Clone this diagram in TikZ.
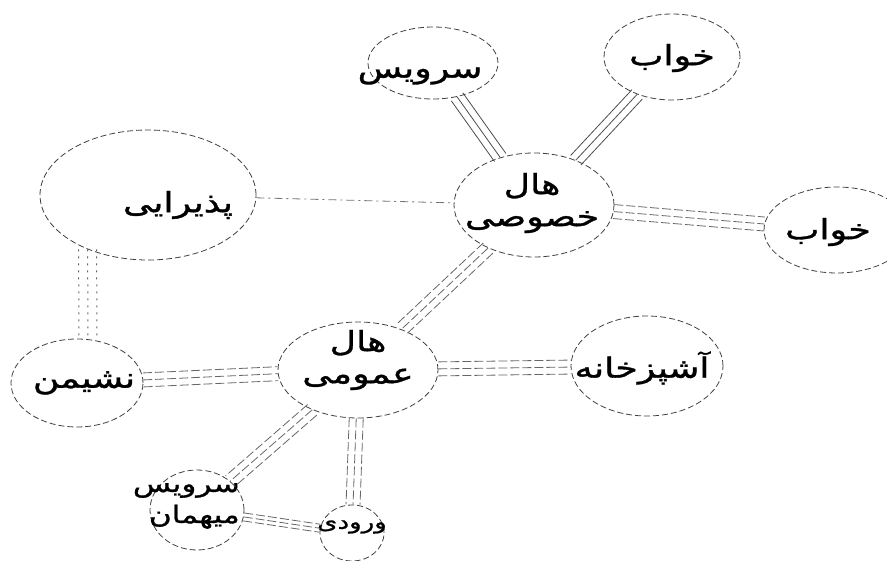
\documentclass[tikz,border=0pt]{standalone}
\usepackage{fontspec}
\newfontfamily\fa[Script=Arabic, FakeStretch=1.3, FakeBold=1.2]{DejaVu Sans}
\TeXXeTstate=1
\usetikzlibrary{shapes.geometric,calc}
\newcommand\trip[4][7pt]{%
  \path (#3) -- (#4) coordinate[pos=0] (#3#4s) coordinate[pos=1] (#3#4e);
  \draw[#2] (#3#4s) -- (#3#4e);
  \draw[#2] ($(#3#4s)!#1!90:(#3#4e)$) -- ($(#3#4e)!#1!-90:(#3#4s)$);
  \draw[#2] ($(#3#4s)!#1!-90:(#3#4e)$) -- ($(#3#4e)!#1!90:(#3#4s)$);}
\begin{document}
\begin{tikzpicture}[x=1pt,y=-1pt,
 bub/.style={ellipse, draw=black!75, line width=0.8pt, dash pattern=on 6pt off 3pt, inner sep=0pt},
 lbl/.style={font=\fa\fontsize{28}{32}\selectfont, align=center, text=black, inner sep=0pt},
 lsolid/.style={draw=black!70, line width=0.8pt},
 ldash/.style={draw=black!60, line width=0.8pt, dash pattern=on 9pt off 3pt},
 ldot/.style={draw=black!60, line width=1pt, dash pattern=on 2pt off 5pt},
 single/.style={draw=black!55, line width=0.8pt, dash pattern=on 8pt off 4pt on 2pt off 4pt}]
\useasboundingbox (0,0) rectangle (887,561);
% bubbles
\node[bub, minimum width=130pt, minimum height=72pt] (srv) at (433,63) {};
\node[bub, minimum width=136pt, minimum height=86pt] (kh1) at (672,57) {};
\node[bub, minimum width=160pt, minimum height=104pt] (hk) at (534,205) {};
\node[bub, minimum width=146pt, minimum height=86pt] (kh2) at (837,230) {};
\node[bub, minimum width=216pt, minimum height=130pt] (pz) at (148,195) {};
\node[bub, minimum width=132pt, minimum height=88pt] (nsh) at (77,383) {};
\node[bub, minimum width=160pt, minimum height=96pt] (hu) at (358,370) {};
\node[bub, minimum width=152pt, minimum height=100pt] (ash) at (647,366) {};
\node[bub, minimum width=94pt, minimum height=80pt] (sm) at (197,510) {};
\node[bub, minimum width=64pt, minimum height=56pt] (vr) at (352,533) {};
% labels
\node[lbl] (tsrv) at (420,76) {\beginR سرویس\endR};
\node[lbl] (tkh1) at (672,58) {\beginR خواب\endR};
\node[lbl] (thk) at (532,203) {\beginR هال\endR\\\beginR خصوصی\endR};
\node[lbl] (tkh2) at (828,232) {\beginR خواب\endR};
\node[lbl] (tpz) at (178,205) {\beginR پذیرایی\endR};
\node[lbl] (tnsh) at (84,383) {\beginR نشیمن\endR};
\node[lbl] (thu) at (358,360) {\beginR هال\endR\\\beginR عمومی\endR};
\node[lbl] (tash) at (642,368) {\beginR آشپزخانه\endR};
\node[lbl, align=right, anchor=east, font=\fa\fontsize{24}{31}\selectfont] (tsm) at (240,506) {\beginR سرویس\endR\\\beginR میهمان\endR};
\node[lbl, font=\fa\fontsize{20}{24}\selectfont] (tvr) at (352,527) {\beginR ورودی\endR};
% connectors
\trip{lsolid}{srv}{hk}
\trip{lsolid}{kh1}{hk}
\trip{ldash}{hk}{kh2}
\draw[single] (pz) -- (hk);
\path (pz.222) coordinate (pzb) (nsh.76) coordinate (nsht);
\trip[9pt]{ldot}{pzb}{nsht}
\trip{ldash}{hk}{hu}
\trip{ldash}{nsh}{hu}
\trip{ldash}{hu}{ash}
\trip{ldash}{hu}{sm}
\trip{ldash}{hu}{vr}
\trip[4pt]{ldash}{sm}{vr}
\end{tikzpicture}
\end{document}
